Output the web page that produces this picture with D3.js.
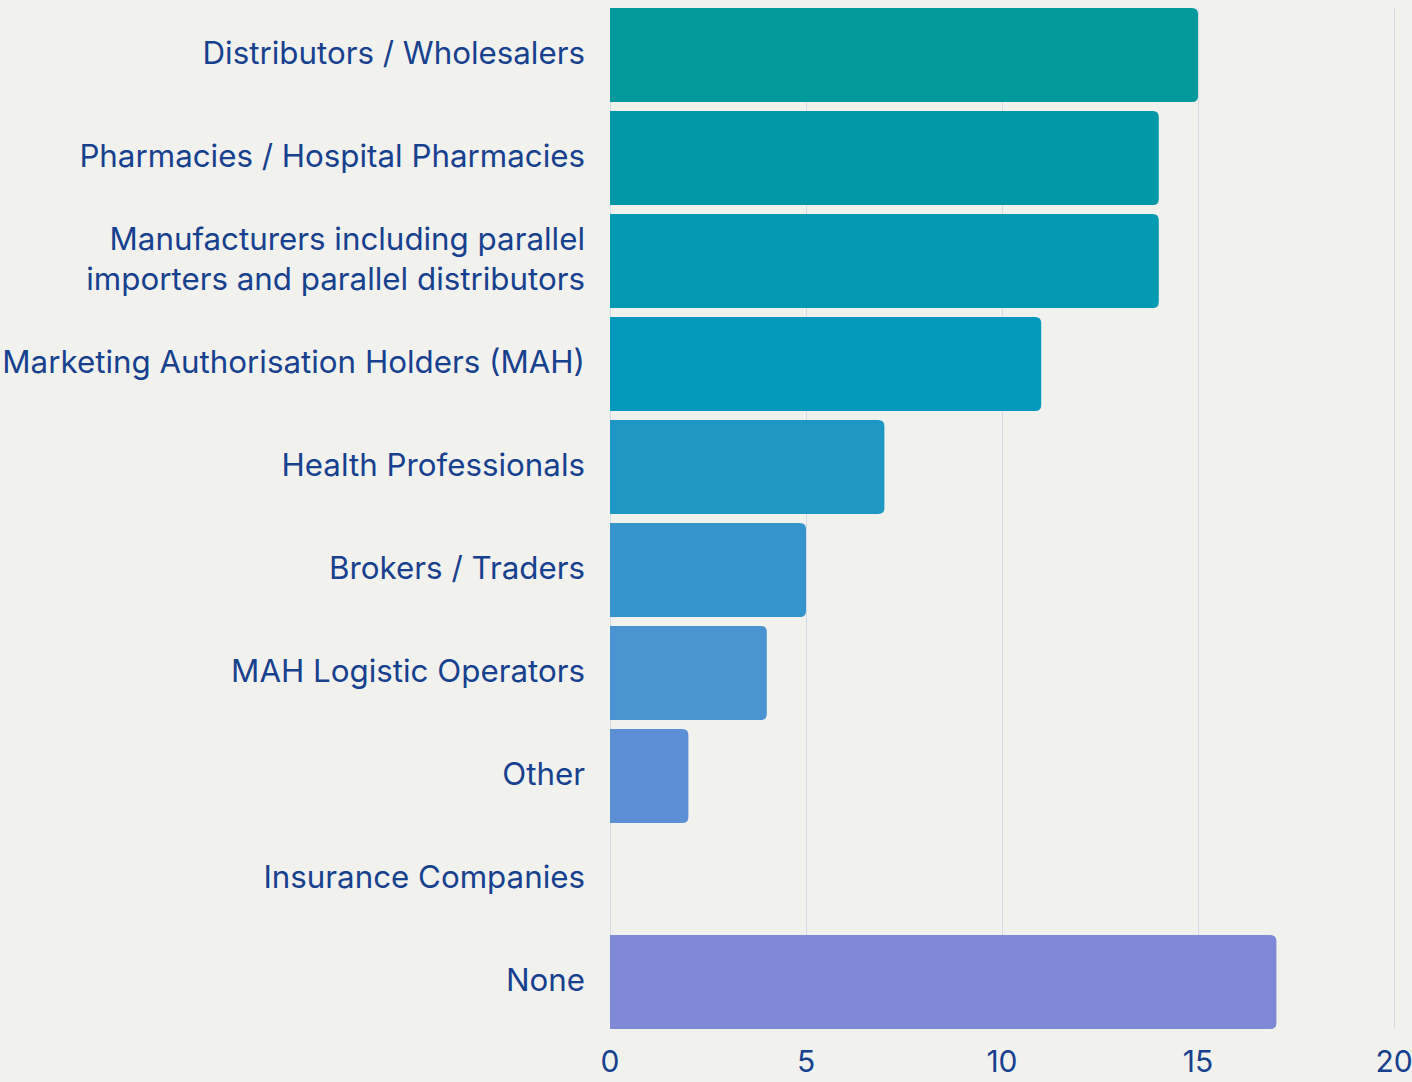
<!DOCTYPE html>
<html>
<head>
<meta charset="utf-8">
<script src="https://cdn.jsdelivr.net/npm/d3@7"></script>
<style>
    html, body { margin: 0; padding: 0; background: #f1f2ee; }
    svg { display: block; }
    text { font-family: "Inter", "Noto Sans", sans-serif; fill: #17408e; }
</style>
</head>
<body>
<script>
const categories = [
    ["Distributors / Wholesalers"],
    ["Pharmacies / Hospital Pharmacies"],
    ["Manufacturers including parallel", "importers and parallel distributors"],
    ["Marketing Authorisation Holders (MAH)"],
    ["Health Professionals"],
    ["Brokers / Traders"],
    ["MAH Logistic Operators"],
    ["Other"],
    ["Insurance Companies"],
    ["None"]
];
const values = [15, 14, 14, 11, 7, 5, 4, 2, 0, 17];
const barColors = ["#04999b", "#0398a7", "#039ab2", "#049abd", "#1f97c4", "#3594cb", "#4893d0", "#5b8fd6", "#6c8bd6", "#7e89d7"];
const tickValues = [0, 5, 10, 15, 20];

const width = 1412;
const height = 1082;

const svg = d3.select('body').append('svg')
    .attr('width', width)
    .attr('height', height);

const x = d3.scaleLinear().domain([0, 20]).range([610, 1394]);
const y = d3.scaleBand()
    .domain(d3.range(categories.length))
    .range([8, 1029])
    .paddingInner(0.0874)
    .paddingOuter(0);

// grid
svg.append('g')
    .selectAll('line')
    .data(tickValues)
    .enter().append('line')
    .attr('x1', d => x(d) + 0.5)
    .attr('x2', d => x(d) + 0.5)
    .attr('y1', 8)
    .attr('y2', 1029)
    .attr('stroke', '#d3dce6')
    .attr('stroke-width', 1);

// bars with rounded right end
const r = 6;
function barPath(i) {
    const x0 = x(0), x1 = x(values[i]);
    const y0 = y(i), h = y.bandwidth();
    const rr = Math.min(r, x1 - x0);
    if (x1 <= x0) return null;
    return `M${x0},${y0}H${x1 - rr}Q${x1},${y0} ${x1},${y0 + rr}V${y0 + h - rr}Q${x1},${y0 + h} ${x1 - rr},${y0 + h}H${x0}Z`;
}

svg.append('g')
    .selectAll('path')
    .data(d3.range(categories.length).filter(i => values[i] > 0))
    .enter().append('path')
    .attr('d', i => barPath(i))
    .attr('fill', i => barColors[i]);

// category labels
const labels = svg.append('g')
    .selectAll('text')
    .data(categories)
    .enter().append('text')
    .attr('text-anchor', 'end')
    .attr('font-size', 31.3)
    .attr('x', 585)
    .attr('y', (d, i) => y(i) + y.bandwidth() / 2);

labels.each(function (lines) {
    const t = d3.select(this);
    const lh = 40;
    lines.forEach((line, k) => {
        t.append('tspan')
            .attr('x', 585)
            .attr('dy', k === 0 ? (-(lines.length - 1) * lh / 2 + 9) : lh)
            .text(line);
    });
});

// x axis tick labels
svg.append('g')
    .selectAll('text')
    .data(tickValues)
    .enter().append('text')
    .attr('text-anchor', 'middle')
    .attr('font-size', 30)
    .attr('x', x)
    .attr('y', 1072)
    .text(d => d);
</script>
</body>
</html>
